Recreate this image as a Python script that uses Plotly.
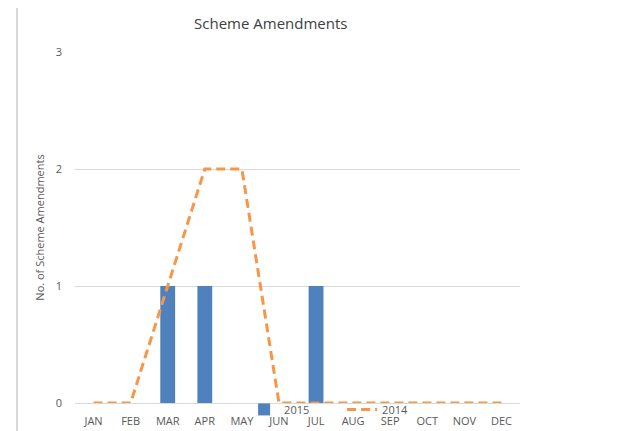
import plotly.graph_objects as go

months = ["JAN", "FEB", "MAR", "APR", "MAY", "JUN", "JUL", "AUG", "SEP", "OCT", "NOV", "DEC"]
values_2015 = [0, 0, 1, 1, 0, 0, 1, 0, 0, 0, 0, 0]
values_2014 = [0, 0, 1, 2, 2, 0, 0, 0, 0, 0, 0, 0]
y_ticks = [0, 1, 2, 3]

font_family = "Open Sans, Liberation Sans, sans-serif"
gray = "#595959"

fig = go.Figure()
fig.add_trace(go.Bar(
    x=months, y=values_2015, name="2015",
    marker=dict(color="#4F81BD", line=dict(width=0)),
    width=0.4,
))
fig.add_trace(go.Scatter(
    x=months, y=values_2014, name="2014", mode="lines",
    line=dict(color="#F79646", width=3, dash="9px,5px"),
))

fig.update_layout(
    width=611, height=423,
    margin=dict(l=67, r=99, t=44, b=28, autoexpand=False),
    paper_bgcolor="white", plot_bgcolor="white",
    title=dict(text="Scheme Amendments", x=0.43, xanchor="center", y=0.962, yanchor="middle",
               font=dict(family=font_family, size=15, color="#404040")),
    font=dict(family=font_family, size=11, color=gray),
    showlegend=True,
    legend=dict(orientation="h", x=0.38, xanchor="left", y=0.023, yanchor="top",
                bgcolor="rgba(0,0,0,0)", font=dict(size=11, color=gray),
                traceorder="normal", itemwidth=30, tracegroupgap=0,
                entrywidth=53, entrywidthmode="pixels"),
    bargap=0.6,
    shapes=[dict(type="line", xref="paper", yref="paper", x0=-0.1303, x1=-0.1303,
                 y0=-0.1, y1=1.2, line=dict(color="#D9D9D9", width=2))],
)
fig.update_xaxes(showgrid=False, showline=False, ticks="", automargin=False,
                 ticklabelstandoff=10, tickfont=dict(size=11, color=gray))
fig.update_yaxes(range=[0, 3], tickvals=y_ticks, showgrid=True, gridcolor="#D9D9D9",
                 zeroline=True, zerolinecolor="#D9D9D9", zerolinewidth=1,
                 showline=False, ticks="", ticklabelstandoff=12, automargin=False,
                 tickfont=dict(size=11, color=gray),
                 title=dict(text="No. of Scheme Amendments", standoff=8,
                            font=dict(size=11, color=gray)))

fig.write_html("out.html")
